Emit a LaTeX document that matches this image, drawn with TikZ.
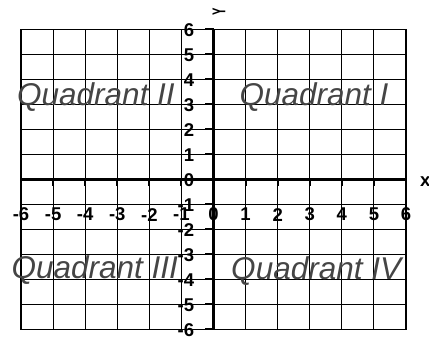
\documentclass[tikz,border=0pt]{standalone}
\usepackage{fontspec}
\setmainfont{Liberation Sans}
\definecolor{quadgray}{HTML}{454545}
\begin{document}
\begin{tikzpicture}[x=32.083bp, y=25bp,
  gridline/.style={line width=1bp, black},
  axisline/.style={line width=3bp, black},
  tickmark/.style={line width=2bp, black},
  numlbl/.style={font=\fontsize{18.5bp}{20bp}\selectfont\bfseries, inner sep=0pt},
  quadlbl/.style={font=\fontsize{31.5bp}{36bp}\selectfont\itshape, text=quadgray, inner sep=0pt, anchor=base}]
\useasboundingbox (-6.655,7.172) rectangle (6.717,-6.308);
\foreach \i in {-6,...,6} {
  \draw[gridline] (\i,-6) -- (\i,6);
  \draw[gridline] (-6,\i) -- (6,\i);
}
\draw[line width=1.5bp] (-6,-6) rectangle (6,6);
\coordinate (xl) at (-6,0);
\coordinate (xr) at (6,0);
\coordinate (yt) at (0,6);
\coordinate (yb) at (0,-6);
\foreach \i [count=\k] in {-6,...,6} {
  \draw[tickmark] (\i,0) -- (\i,-0.25);
  \draw[tickmark] (0,\i) -- (-0.25,\i);
  \node[numlbl] (xn\k) at (\i,-1.41) {\i};
  \node[numlbl, anchor=east] (yn\k) at (-0.6,\i-0.03) {\i};
}
\draw[axisline] (xl) -- (xr);
\draw[axisline] (yt) -- (yb);
\node[numlbl] (xlab) at (6.6,-0.088) {x};
\node[numlbl, rotate=90] (ylab) at (0.171,6.712) {\scalebox{0.6}[1]{Y}};
\node[quadlbl] (q2) at (-3.663,2.932) {Quadrant II};
\node[quadlbl] (q1) at (3.133,2.97) {Quadrant I};
\node[quadlbl] (q3) at (-3.703,-3.96) {Quadrant III};
\node[quadlbl] (q4) at (3.2,-3.99) {Quadrant IV};
\end{tikzpicture}
\end{document}
